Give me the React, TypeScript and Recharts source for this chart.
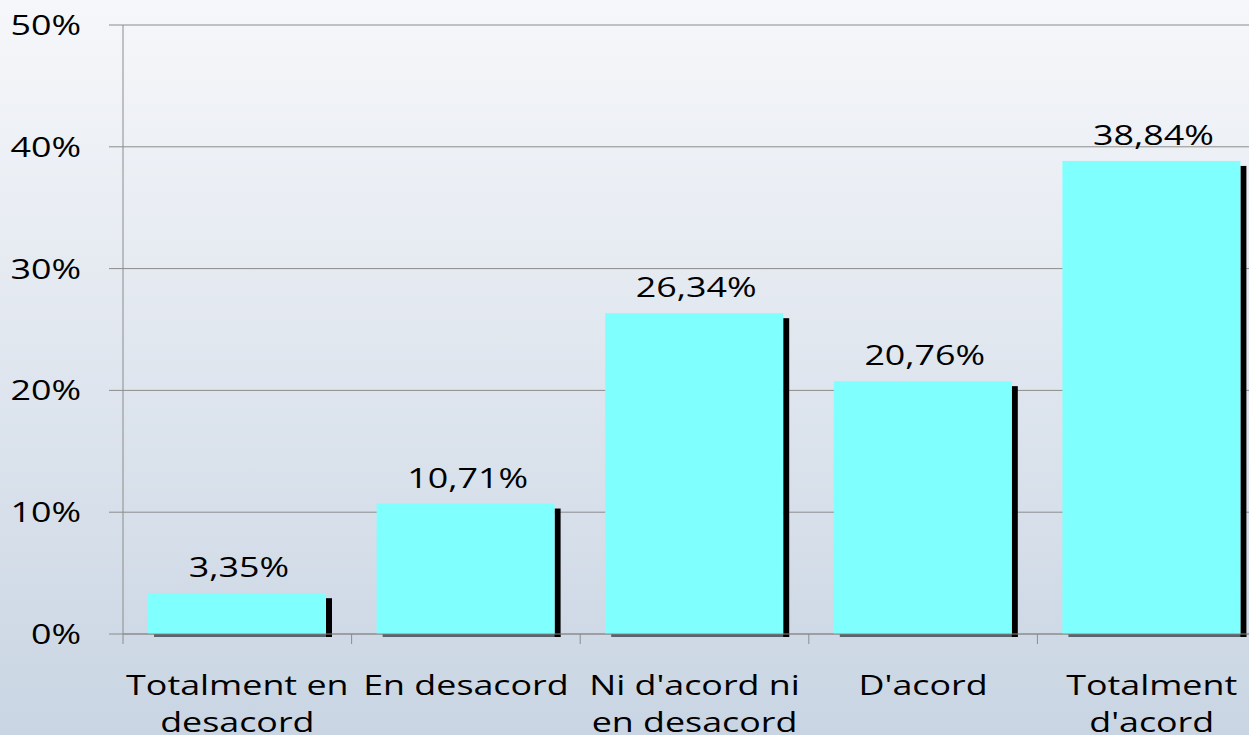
import React from 'react';
import { BarChart, Bar, XAxis, YAxis, CartesianGrid, LabelList } from 'recharts';

const categories = [
  'Totalment en\ndesacord',
  'En desacord',
  "Ni d'acord ni\nen desacord",
  "D'acord",
  "Totalment\nd'acord",
];
const percentages = [3.35, 10.71, 26.34, 20.76, 38.84];
const yTicks = [0, 10, 20, 30, 40, 50];

const data = categories.map((name, i) => ({ name, value: percentages[i] }));

const CHART_W = 1290;
const CHART_H = 735;
const MARGIN = { top: 25, right: 24, left: 0, bottom: 0 };
const Y_W = 123;
const BAND = (CHART_W - MARGIN.left - MARGIN.right - Y_W) / categories.length;

const FONT = 'Open Sans';
const FS = 28;
const SX = 1.28;
const GRID = '#8c8c8c';

// stretched text, the source chart was scaled wider than tall
const Stretched = ({ x, y, anchor, children }: any) => (
  <text
    transform={`translate(${x},${y}) scale(${SX},1)`}
    textAnchor={anchor}
    fontFamily={FONT}
    fontSize={FS}
    fill="#000"
  >
    {children}
  </text>
);

const YTick = ({ x, y, payload }: any) => (
  <Stretched x={x - 26} y={y + 10} anchor="end">
    {`${payload.value}%`}
  </Stretched>
);

const XTick = ({ x, y, payload }: any) => {
  const lines = String(payload.value).split('\n');
  const left = x - BAND / 2;
  const axisY = y - 8;
  return (
    <g>
      <line x1={left} x2={left} y1={axisY} y2={axisY + 10} stroke={GRID} />
      {lines.map((l, i) => (
        <Stretched key={i} x={x} y={695 + i * 37} anchor="middle">
          {l}
        </Stretched>
      ))}
    </g>
  );
};

const ShadowBar = ({ x, y, width, height }: any) => (
  <g>
    <rect x={x + 6} y={y + height} width={width} height={3} fill="#2f3d44" opacity={0.75} />
    <rect x={x + width} y={y + 5} width={6} height={height - 2} fill="#000" />
    <rect x={x} y={y} width={width} height={height} fill="#80ffff" />
  </g>
);

const TopLabel = ({ x, y, width, value }: any) => (
  <Stretched x={x + width / 2 + 2} y={y - 16} anchor="middle">
    {`${Number(value).toFixed(2).replace('.', ',')}%`}
  </Stretched>
);

export default function App() {
  return (
    <div
      style={{
        position: 'fixed',
        top: 0,
        left: 0,
        width: 1249,
        height: 735,
        overflow: 'hidden',
        background: 'linear-gradient(#f6f7fa, #c9d5e3)',
      }}
    >
      <BarChart width={CHART_W} height={CHART_H} data={data} margin={MARGIN} barSize={178}>
        <CartesianGrid vertical={false} stroke={GRID} />
        <YAxis
          width={Y_W}
          domain={[0, 50]}
          ticks={yTicks}
          interval={0}
          tickSize={14}
          axisLine={{ stroke: GRID }}
          tickLine={{ stroke: GRID }}
          tick={<YTick />}
        />
        <XAxis
          dataKey="name"
          height={101}
          interval={0}
          axisLine={{ stroke: GRID }}
          tickLine={false}
          tick={<XTick />}
        />
        <Bar dataKey="value" shape={<ShadowBar />} isAnimationActive={false}>
          <LabelList dataKey="value" content={<TopLabel />} />
        </Bar>
      </BarChart>
    </div>
  );
}
